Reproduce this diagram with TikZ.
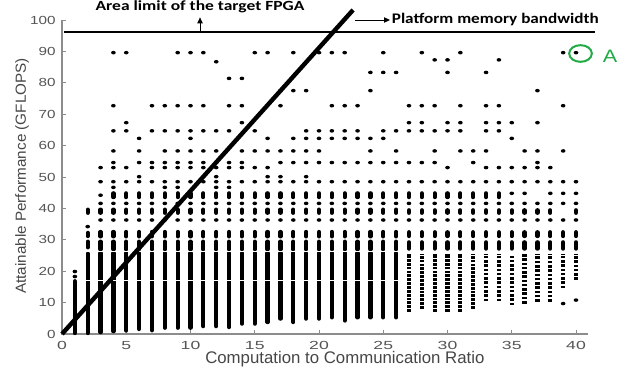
\documentclass[tikz,border=0pt]{standalone}
\usepackage{fontspec}
\setmainfont{Liberation Sans}
\newfontfamily\calib{Carlito}
\usetikzlibrary{arrows.meta,shapes.geometric}
\definecolor{axgray}{RGB}{140,140,140}
\definecolor{ticktext}{RGB}{85,85,85}
\definecolor{labtext}{RGB}{70,70,70}
\definecolor{markgreen}{RGB}{34,170,70}
\tikzset{
  barcol/.style={line width=3.2pt, line cap=round},
  dotcol/.style={line width=3.2pt, dash pattern=on 2.1pt off 0.8pt},
  sparsecol/.style={line width=3.2pt, dash pattern=on 1.9pt off 1.3pt},
  ticklab/.style={text=ticktext, font=\fontsize{8.8}{9}\selectfont, inner sep=0pt},
  annot/.style={font=\calib\bfseries\fontsize{10.5}{12}\selectfont, inner sep=1pt},
}
\newcommand\dotat[2]{\fill (#1,#2) ellipse (1.75pt and 1.35pt);}
\begin{document}
\begin{tikzpicture}[x=0.75pt,y=-0.75pt]
\useasboundingbox (0,0) rectangle (634,374);
\begin{scope}[shift={(62,334)}, x=9.6375pt, y=2.355pt]
  % axes
  \draw[axgray, line width=0.8pt] (0,100) -- (0,0) -- (40.9,0);
  \foreach \v in {0,10,...,100} {
    \draw[axgray, line width=0.6pt] (0,\v) -- ++(0.3,0);
    \node[ticklab, anchor=east, xscale=1.3] at ([xshift=-4.5pt]0,\v) {\v};
  }
  \foreach \v in {0,5,...,40} {
    \draw[axgray, line width=0.6pt] (\v,0) -- ++(0,1.2);
    \node[ticklab, anchor=north, xscale=1.5] at ([yshift=-5pt]\v,0) {\v};
  }
  % column 1
  \draw[barcol] (1,0.3) -- (1,16.8);
  \dotat{1}{18.3}\dotat{1}{19.9}
  % column 2
  \draw[barcol] (2,0.3) -- (2,25.6);
  \draw[barcol] (2,27.6) -- (2,29.4);
  \draw[barcol] (2,31.2) -- (2,32.2);
  \dotat{2}{34.2}
  \draw[barcol] (2,38.6) -- (2,39.6);
  % dense columns 3..26
  \foreach \c/\lo in {3/0.6,4/0.9,5/1.1,6/1.6,7/1.2,8/2,9/2,10/2,11/2.5,12/2.5,13/2.2,
                       14/3.3,15/3.3,16/3.8,17/4.9,18/3.8,19/4.9,20/4.9,21/5.3,22/4.3,
                       23/5.3,24/5.3,25/5.3,26/5.3} {
    \draw[barcol] (\c,\lo) -- (\c,25.8);
    \draw[barcol] (\c,27) -- (\c,29.4);
    \draw[barcol] (\c,31.1) -- (\c,32.5);
    \dotat{\c}{36.3}
    \draw[barcol] (\c,38.6) -- (\c,39.6);
    \dotat{\c}{41.6}
  }
  \foreach \c in {4,5,...,26} {\draw[barcol] (\c,43.6) -- (\c,44.8);}
  \dotat{3}{44.2}
  % dotted columns 27..40
  \foreach \c/\lo in {27/7,28/8,29/7,30/7,31/7,32/8} {
    \draw[dotcol] (\c,\lo) -- (\c,25.5);
  }
  \foreach \c/\lo in {33/10.5,34/10.5,35/9.2,36/9.7,37/10.3,38/10.3,39/14.6,40/17.2} {
    \draw[sparsecol] (\c,\lo) -- (\c,25.5);
  }
  \dotat{39}{9.7}\dotat{40}{10.8}
  \foreach \c in {27,28,...,40} {
    \draw[barcol] (\c,27.2) -- (\c,29.2);
    \draw[barcol] (\c,31.2) -- (\c,32.4);
    \dotat{\c}{36.3}
    \dotat{\c}{41.6}
  }
  \foreach \c in {27,...,38,40} {\draw[barcol] (\c,38.6) -- (\c,39.4);}
  \foreach \c in {27,...,34} {\draw[barcol] (\c,43.6) -- (\c,44.8);}
  \foreach \c in {35,36,38,39,40} {\dotat{\c}{44.8}}
  % white gaps
  \draw[white, line width=0.5pt] (1.6,17.1) -- (26.5,17.1);
  \draw[white, line width=0.5pt] (1.6,26.4) -- (26.5,26.4);
  % sparse upper points
  \foreach \c/\ys in {
     3/{48.5,53},
     4/{46.7,48.5,53,54.6,58.3,64.7,72.7,89.6},
     5/{48.5,53,64.7,67.3,89.6},
     6/{48.5,50.1,54.6,58.3,62.3},
     7/{48.5,53,54.6,64.7,72.7},
     8/{46.7,48.5,53,54.6,58.3,64.7,72.7},
     9/{46.7,48.5,53,54.6,58.3,64.7,72.7,89.6},
     10/{48.5,53,54.6,58.3,62.3,64.7,72.7,89.6},
     11/{48.5,53,54.6,58.3,64.7,72.7,89.6},
     12/{46.7,48.5,50.1,53,54.6,58.3,64.7,86.7},
     13/{46.7,48.5,53,54.6,64.7,72.7,81.4},
     14/{48.5,53,54.6,58.3,67.3,72.7,81.4},
     15/{48.5,53,58.3,64.7,89.6},
     16/{48.5,50.1,53,58.3,62.3,89.6},
     17/{48.5,50.1,54.6,58.3,72.7,77.5},
     18/{48.5,54.6,58.3,62.3,77.5,89.6},
     19/{48.5,50.1,54.6,58.3,62.3,64.7,77.5},
     20/{48.5,54.6,58.3,62.3,64.7,89.6},
     21/{48.5,54.6,62.3,64.7,72.7,89.6},
     22/{48.5,54.6,62.3,64.7,72.7,89.6},
     23/{48.5,54.6,62.3,64.7,72.7},
     24/{48.5,54.6,58.3,62.3,77.5,83.3},
     25/{48.5,54.6,62.3,64.7,83.3,89.6},
     26/{48.5,54.6,58.3,64.7,83.3},
     27/{48.5,54.6,64.7,67.3,72.7},
     28/{48.5,54.6,64.7,67.3,72.7,89.6},
     29/{48.5,54.6,58.3,64.7,72.7,87.3},
     30/{48.5,53,64.7,67.3,83.3,87.3},
     31/{48.5,58.3,64.7,67.3,72.7,89.6},
     32/{48.5,54.6,58.3},
     33/{48.5,53,58.3,64.7,67.3,72.7,83.3},
     34/{48.5,53,64.7,67.3,72.7,87.3},
     35/{48.5,53,62.3,67.3},
     36/{48.5,53,58.3},
     37/{48.5,53,54.6,58.3,67.3,77.5},
     38/{48.5,53},
     39/{48.5,58.3,72.7,89.6},
     40/{48.5,89.6}} {
    \foreach \y in \ys {\dotat{\c}{\y}}
  }
  % memory bandwidth line
  \coordinate (orig) at (0,0);
  \coordinate (bwend) at (22.65,103.2);
  \draw[line width=3.3pt] (orig) -- (bwend);
\end{scope}
% area limit line
\coordinate (alL) at (64,32);
\coordinate (alR) at (595,32);
\coordinate (alA) at (200,32);
\draw[line width=1.9pt] (alL) -- (alR);
\node[annot, xscale=1.25] (arealab) at (200,7) {Area limit of the target FPGA};
\draw[line width=0.7pt, -{Triangle[length=4.5pt,width=4pt]}] (alA) -- ([yshift=-2pt]arealab.south);
% platform memory bandwidth label
\coordinate (pmA) at (355,20);
\node[annot, anchor=west, xscale=1.17, font=\calib\bfseries\fontsize{11}{12}\selectfont] (pmlab) at (390,20) {Platform memory bandwidth};
\draw[line width=0.7pt, -{Triangle[length=4.5pt,width=4pt]}] (pmA) -- (pmlab.west);
% axis labels
\node[text=labtext, font=\fontsize{12.6}{13}\selectfont, inner sep=0pt, anchor=west] (xlab) at (205,359) {Computation to Communication Ratio};
\node[text=labtext, font=\fontsize{11}{12}\selectfont, rotate=90, xscale=1.04] (ylab) at (22,176) {Attainable Performance (GFLOPS)};
% point A
\node[draw=markgreen, line width=1.5pt, ellipse, inner sep=0pt, minimum width=17pt, minimum height=12.5pt] (ringA) at (580.5,53.5) {};
\node[text=markgreen, font=\fontsize{13.5}{14}\selectfont, xscale=1.2] (labA) at (610,56) {A};
\end{tikzpicture}
\end{document}
